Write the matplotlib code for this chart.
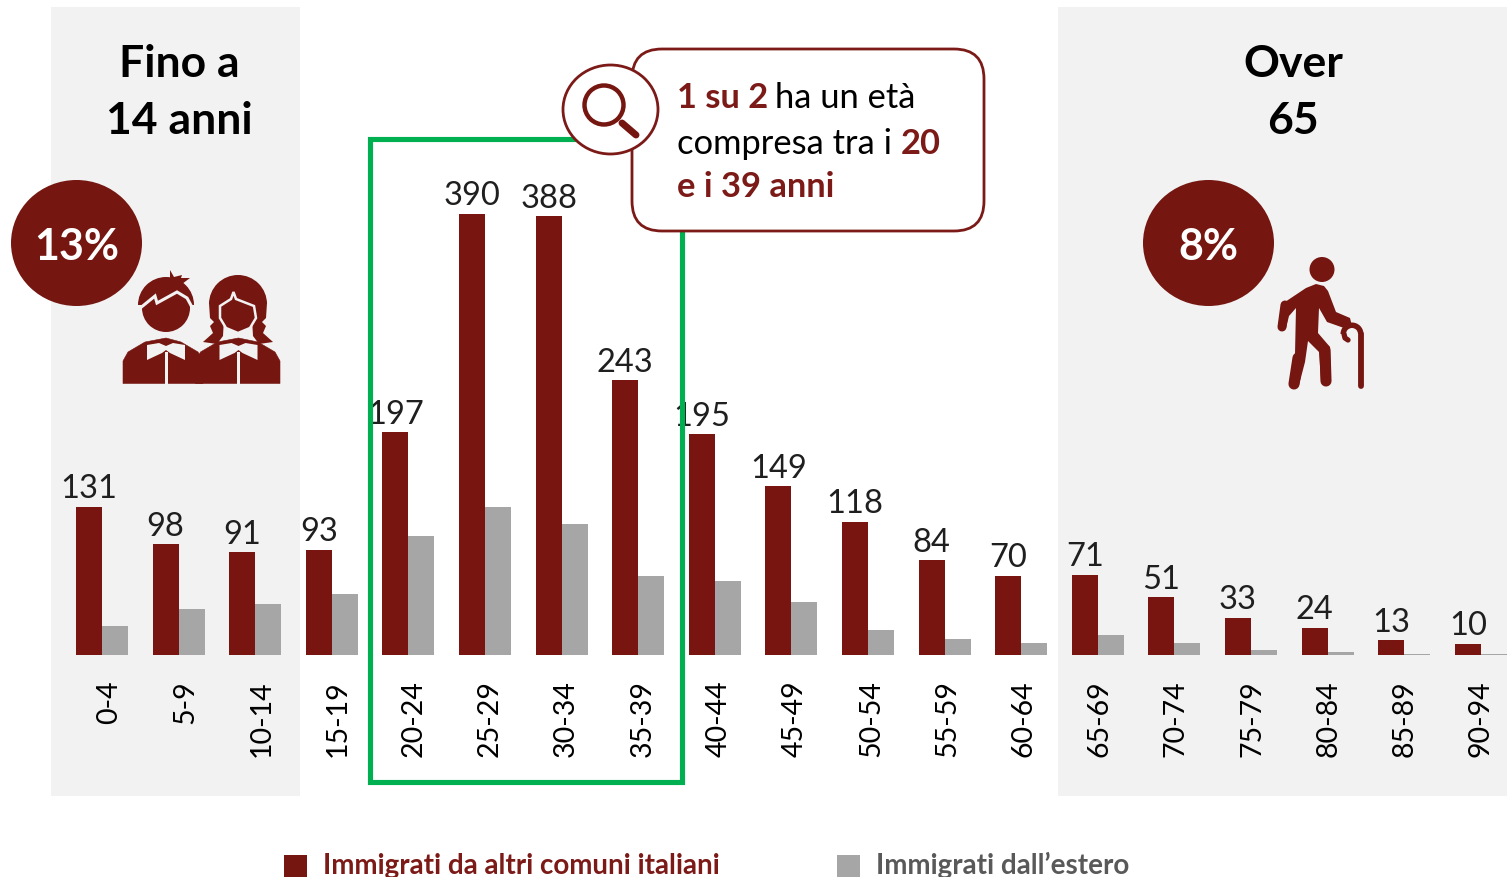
"""
Immigrati per classe di eta: bars plus panels, callout and icons drawn on a pixel overlay.
"""

import matplotlib
matplotlib.use('Agg')
import matplotlib.pyplot as plt
from matplotlib.patches import Circle, Ellipse, FancyBboxPatch, Polygon, Rectangle, Wedge

plt.rcParams['font.family'] = ['Lato', 'DejaVu Sans']

# ── data ───────────────────────────────────────────────────────────────────
AGE_CLASSES = ['0-4', '5-9', '10-14', '15-19', '20-24', '25-29', '30-34', '35-39',
               '40-44', '45-49', '50-54', '55-59', '60-64', '65-69', '70-74',
               '75-79', '80-84', '85-89', '90-94']
DA_ITALIA = [131, 98, 91, 93, 197, 390, 388, 243, 195, 149, 118, 84, 70, 71, 51, 33, 24, 13, 10]
DA_ESTERO = [26, 41, 45, 54, 105, 131, 116, 70, 65, 47, 22, 14, 11, 18, 11, 4, 3, 1, 1]

# colours
RED = '#751611'
RED_BAR = '#781510'
RED_TEXT = '#7B1A17'
GREY_BAR = '#A6A6A6'
PANEL = '#F2F2F2'
GREEN = '#00B050'

W, H = 1507, 877
GROUP_PX = 76.6      # pixels per age class
X0_PX = 102          # pixel of first group centre
Y0_PX = 655          # pixel of bar baseline
UNIT_PX = 1.131      # pixels per person


def draw_torso(ax, x0, x1, xc, z):
    ax.add_patch(Polygon([(x0, 383.5), (x0, 361), (x0 + 5, 352), (x0 + 22, 342), (xc, 338), (x1 - 22, 342),
                          (x1 - 5, 352), (x1, 361), (x1, 383.5)],
                         closed=True, facecolor=RED, edgecolor=RED, lw=0.4, zorder=z))
    ax.add_patch(Rectangle((xc - 1.5, 352), 3, 32, color=PANEL, lw=0, zorder=z + 0.1))
    ax.add_patch(Polygon([(xc - 19, 345), (xc - 7, 343), (xc, 346), (xc + 7, 343), (xc + 19, 345),
                          (xc + 19, 360), (xc + 4, 353), (xc, 350), (xc - 4, 353), (xc - 19, 360)],
                         closed=True, color=PANEL, lw=0, zorder=z + 0.1))


def draw_boy_girl(ax):
    # boy: face, hair dome, tuft, then the fringe line cut out in panel colour
    ax.add_patch(Circle((166, 308), 24, color=RED, lw=0, zorder=5))
    ax.add_patch(Wedge((166, 305), 28, 180, 360, color=RED, lw=0, zorder=5))
    ax.add_patch(Polygon([(170, 270), (174, 277), (182, 275), (181, 278), (190, 278), (182, 284), (170, 280)],
                         closed=True, color=RED, lw=0, zorder=5))
    ax.plot([139, 155, 157, 177, 187, 193], [309, 296, 303, 292, 298, 309],
            color=PANEL, lw=2.2, solid_joinstyle='miter', zorder=5.2)
    draw_torso(ax, 123, 203, 166, 6)

    # girl: hair with side strands, face on top with a panel coloured outline
    ax.add_patch(Wedge((238, 304), 29, 180, 360, color=RED, lw=0, zorder=5))
    ax.add_patch(Polygon([(209, 303), (210, 318), (214, 322), (210, 326), (213, 333), (203, 342), (217, 344),
                          (223, 336), (224, 318), (252, 318), (253, 336), (259, 344), (273, 342),
                          (263, 333), (266, 326), (262, 322), (266, 318), (267, 303)],
                         closed=True, color=RED, lw=0, zorder=5))
    ax.add_patch(Polygon([(220, 306), (231, 299), (233.5, 292), (236, 299), (254, 306), (256, 318),
                          (250, 328), (238, 333), (226, 328), (220, 318)],
                         closed=True, facecolor=RED, edgecolor=PANEL, lw=1.8, zorder=5.3))
    draw_torso(ax, 195.5, 280, 238.5, 6)


def draw_old_man(ax):
    ax.add_patch(Circle((1322, 269.5), 12.5, color=RED, lw=0, zorder=5))
    ax.add_patch(Polygon([(1285, 302), (1306, 288), (1316, 284), (1324, 286), (1328, 291),
                          (1336, 312), (1350, 318), (1352, 326), (1344, 328), (1327, 322),
                          (1319, 308), (1318, 333), (1330, 347), (1331, 380), (1321, 380),
                          (1319, 352), (1308, 341), (1305, 362), (1299, 385), (1289, 384),
                          (1295, 354), (1296, 308), (1289, 316), (1286, 328), (1278, 326),
                          (1283, 304)],
                         closed=True, color=RED, lw=0, zorder=5))
    for xs, ys, lw in [([1285, 1282], [305, 327], 6.5), ([1298, 1294], [358, 384], 8),
                       ([1325, 1326], [350, 381], 8)]:
        ax.plot(xs, ys, color=RED, lw=lw, solid_capstyle='round', zorder=5)
    # cane
    ax.plot([1360.7, 1360.7], [334, 386], color=RED, lw=4.2, solid_capstyle='round', zorder=5)
    ax.add_patch(Wedge((1352, 334), 11.5, 180, 360, width=5.5, color=RED, lw=0, zorder=5))
    ax.plot([1344, 1345, 1348], [334, 338, 340], color=RED, lw=3.8, solid_capstyle='round', zorder=5)


def draw_overlay(ax):
    ax.set_xlim(0, W)
    ax.set_ylim(H, 0)
    ax.axis('off')

    # age range highlight
    ax.add_patch(Rectangle((369.5, 139), 312, 643, fill=False, edgecolor=GREEN, lw=3.7, zorder=3))

    # panel titles
    for x, y, s in [(179, 64, 'Fino a'), (179, 121, '14 anni'), (1293, 64, 'Over'), (1293, 121, '65')]:
        ax.text(x, y, s, ha='center', va='center', fontsize=32, fontweight='bold', color='black', zorder=6)

    # share badges
    ax.add_patch(Ellipse((76.5, 243), 131, 126, color=RED, lw=0, zorder=4))
    ax.text(76.5, 247.5, '13%', ha='center', va='center', fontsize=31, fontweight='bold', color='white', zorder=6)
    ax.add_patch(Ellipse((1208.5, 243), 131, 126, color=RED, lw=0, zorder=4))
    ax.text(1208.5, 247.5, '8%', ha='center', va='center', fontsize=31, fontweight='bold', color='white', zorder=6)

    draw_boy_girl(ax)
    draw_old_man(ax)

    # callout
    ax.add_patch(FancyBboxPatch((662, 79), 292, 122, boxstyle='round,pad=30,rounding_size=30',
                                facecolor='white', edgecolor=RED_TEXT, lw=2, zorder=7))
    ax.add_patch(Ellipse((610.5, 109.5), 95, 89, facecolor='white', edgecolor=RED_TEXT, lw=2, zorder=8))
    ax.add_patch(Circle((604, 105), 19.5, fill=False, edgecolor=RED, lw=3.2, zorder=9))
    ax.plot([622, 636], [123, 135], color=RED, lw=5, solid_capstyle='round', zorder=9)

    callout_runs = [
        (677, 108, '1 su 2', RED_TEXT, 'bold'),
        (775, 108, 'ha un età', 'black', 'normal'),
        (677, 154, 'compresa tra i', 'black', 'normal'),
        (901, 154, '20', RED_TEXT, 'bold'),
        (677, 197, 'e i 39 anni', RED_TEXT, 'bold'),
    ]
    for x, y, s, c, w in callout_runs:
        ax.text(x, y, s, ha='left', va='baseline', fontsize=24.8, color=c, fontweight=w, zorder=10)

    # legend
    ax.add_patch(Rectangle((284, 855), 23, 22, color=RED, lw=0))
    ax.text(323, 874, 'Immigrati da altri comuni italiani', ha='left', va='baseline',
            fontsize=20, fontweight='bold', color=RED_TEXT)
    ax.add_patch(Rectangle((837, 855), 23, 22, color=GREY_BAR, lw=0))
    ax.text(876, 874, 'Immigrati dall\u2019estero', ha='left', va='baseline',
            fontsize=20, fontweight='bold', color='#595959')


def main():
    fig = plt.figure(figsize=(W / 100, H / 100), dpi=100)

    # panels sit behind the chart
    bg = fig.add_axes([0, 0, 1, 1], zorder=0)
    bg.set_xlim(0, W)
    bg.set_ylim(H, 0)
    bg.axis('off')
    bg.add_patch(Rectangle((51, 7), 249, 789, color=PANEL, lw=0))
    bg.add_patch(Rectangle((1058, 7), 449, 789, color=PANEL, lw=0))

    # chart: axes cover the whole figure, limits set so the scale fits the picture
    ax = fig.add_axes([0, 0, 1, 1], zorder=1)
    ax.patch.set_alpha(0)
    ax.set_xlim(-X0_PX / GROUP_PX, (W - X0_PX) / GROUP_PX)
    ax.set_ylim((Y0_PX - H) / UNIT_PX, Y0_PX / UNIT_PX)
    ax.axis('off')

    bar_w = 26 / GROUP_PX
    xs = list(range(len(AGE_CLASSES)))
    ax.bar([x - bar_w / 2 for x in xs], DA_ITALIA, width=bar_w, color=RED_BAR, linewidth=0)
    ax.bar([x + bar_w / 2 for x in xs], DA_ESTERO, width=bar_w, color=GREY_BAR, linewidth=0)

    for x, val in zip(xs, DA_ITALIA):
        ax.text(x - bar_w / 2, val + 7.5, str(val), ha='center', va='baseline',
                fontsize=23.5, color='#1F1F1F')
    for x, lab in zip(xs, AGE_CLASSES):
        ax.text(x * 0.995 + 0.09, -22.5, lab, ha='center', va='top', rotation=90,
                fontsize=20.5, color='black')

    overlay = fig.add_axes([0, 0, 1, 1], zorder=2)
    overlay.patch.set_alpha(0)
    draw_overlay(overlay)

    fig.savefig('out.png', dpi=100)


if __name__ == '__main__':
    main()
